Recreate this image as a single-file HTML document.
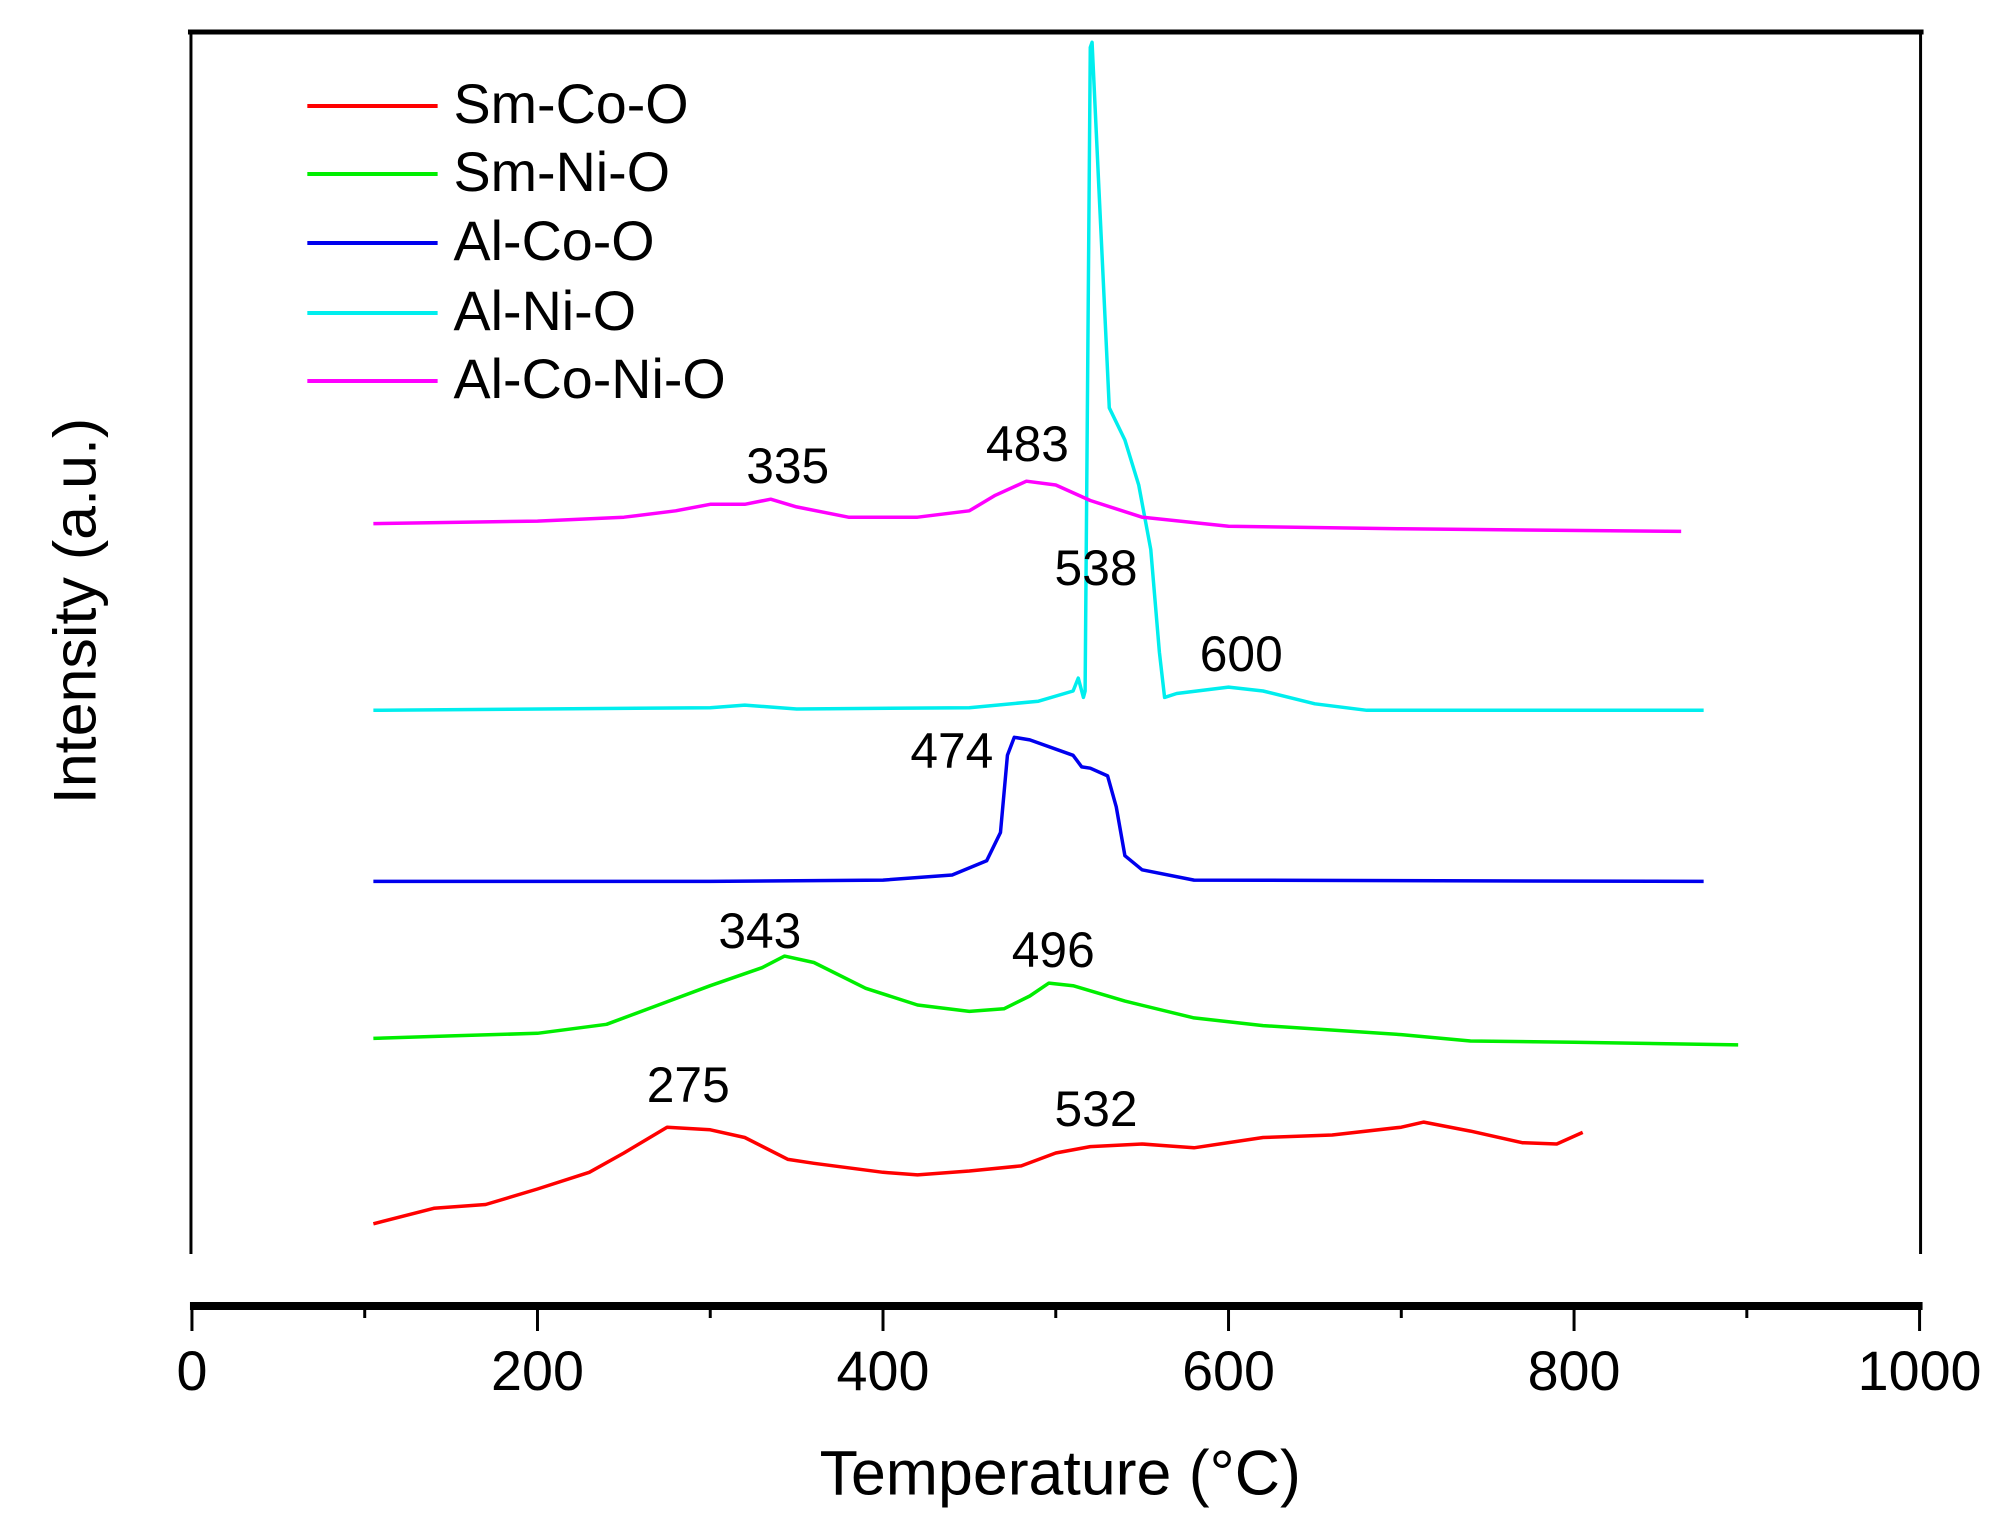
<!DOCTYPE html>
<html><head><meta charset="utf-8"><style>
html,body{margin:0;padding:0;background:#fff}
svg{display:block;font-family:"Liberation Sans",sans-serif}
</style></head><body>
<svg id="chart" width="2008" height="1524" viewBox="0 0 2008 1524">
<g transform="scale(0.9946,1)">
<g id="frame"></g>
<g id="series"></g>
<g id="labels"></g>
<g id="legend"></g>
<text x="1066" y="1478" font-size="63" text-anchor="middle" dominant-baseline="middle">Temperature (°C)</text>
<text transform="translate(80,611) rotate(-90)" font-size="61" text-anchor="middle" dominant-baseline="middle">Intensity (a.u.)</text>
</g>
</svg>
<script>
const xTicks = [0,200,400,600,800,1000];
const xMinorTicks = [100,300,500,700,900];
const seriesNames = ["Sm-Co-O","Sm-Ni-O","Al-Co-O","Al-Ni-O","Al-Co-Ni-O"];
const seriesColors = ["#ff0000","#00ee00","#0000ee","#00eeee","#ff00ff"];
const smCoT = [105,140,170,200,230,250,275,300,320,345,360,400,420,450,480,500,520,550,580,620,660,700,713,740,770,790,805];
const smCoV = [67,79,82,94,107,122,142,140,134,117,114,107,105,108,112,122,127,129,126,134,136,142,146,139,130,129,138];
const smNiT = [105,150,200,240,270,300,330,343,360,390,420,450,470,485,496,510,540,580,620,700,740,800,895];
const smNiV = [211,213,215,222,237,252,266,275,270,250,237,232,234,244,254,252,240,227,221,214,209,208,206];
const alCoT = [105,300,400,440,460,468,472,476,485,510,515,520,530,535,540,550,580,875];
const alCoV = [333,333,334,338,349,371,431,445,443,431,422,421,415,391,353,342,334,333];
const alNiT = [105,300,320,350,450,490,510,513,516,517,520,521,525,531,540,548,555,560,563,570,600,620,650,680,875];
const alNiV = [466,468,470,467,468,473,481,491,476,481,981,985,871,701,676,641,591,511,476,479,484,481,471,466,466];
const alCoNiT = [105,200,250,280,300,320,335,350,380,420,450,465,483,500,520,550,600,700,862];
const alCoNiV = [611,613,616,621,626,626,630,624,616,616,621,633,644,641,629,616,609,607,605];
const peakTemps = ["335","483","538","600","474","343","496","275","532"];

const NS="http://www.w3.org/2000/svg";
const X0=193, X1=1930, YB=1310, K=1.287;
function xs(t){return X0+(t/1000)*(X1-X0);}
function ys(v){return YB-v*K;}
function mk(tag,attrs,parent){const e=document.createElementNS(NS,tag);for(const k in attrs)e.setAttribute(k,attrs[k]);parent.appendChild(e);return e;}

const frame=document.getElementById('frame');
let e;
e=mk('line',{x1:189,y1:32,x2:1934,y2:32,stroke:'#000','stroke-width':5},frame);


e=mk('line',{x1:192,y1:30,x2:192,y2:1254,stroke:'#000','stroke-width':3},frame);


e=mk('line',{x1:1931,y1:30,x2:1931,y2:1254,stroke:'#000','stroke-width':3},frame);


e=mk('line',{x1:191,y1:1306,x2:1933,y2:1306,stroke:'#000','stroke-width':8},frame);


xTicks.forEach(t=>{
  const l=mk('line',{x1:xs(t),y1:1306,x2:xs(t),y2:1331,stroke:'#000','stroke-width':3},frame);
  
  
  const tx=mk('text',{x:xs(t),y:1375,'font-size':56,'text-anchor':'middle','dominant-baseline':'middle'},frame);
  tx.textContent=t;
  
  
});
xMinorTicks.forEach(t=>{
  const l=mk('line',{x1:xs(t),y1:1306,x2:xs(t),y2:1318,stroke:'#000','stroke-width':3},frame);
  
  
});

const sg=document.getElementById('series');
const data=[[smCoT,smCoV],[smNiT,smNiV],[alCoT,alCoV],[alNiT,alNiV],[alCoNiT,alCoNiV]];
data.forEach((d,i)=>{
  const pts=d[0].map((t,j)=>xs(t).toFixed(1)+','+ys(d[1][j]).toFixed(1)).join(' ');
  const p=mk('polyline',{points:pts,fill:'none',stroke:seriesColors[i],'stroke-width':3.5,'stroke-linejoin':'round'},sg);
  
  
});

const lp=[[792,470],[1033,448],[1102,572],[1248,658],[957,755],[764,935],[1059,954],[692,1089],[1102,1113]];
const lg=document.getElementById('labels');
peakTemps.forEach((s,i)=>{
  const t=mk('text',{x:lp[i][0],y:lp[i][1],'font-size':50,'text-anchor':'middle','dominant-baseline':'middle'},lg);
  t.textContent=s;
  
  
});

const leg=document.getElementById('legend');
const legY=[106,174,243,313,381];
seriesNames.forEach((n,i)=>{
  const l=mk('line',{x1:309,y1:legY[i],x2:440,y2:legY[i],stroke:seriesColors[i],'stroke-width':4},leg);
  
  
  const t=mk('text',{x:456,y:legY[i]+2,'font-size':56,'dominant-baseline':'middle'},leg);
  t.textContent=n;
  
  
});
</script>
</body></html>
